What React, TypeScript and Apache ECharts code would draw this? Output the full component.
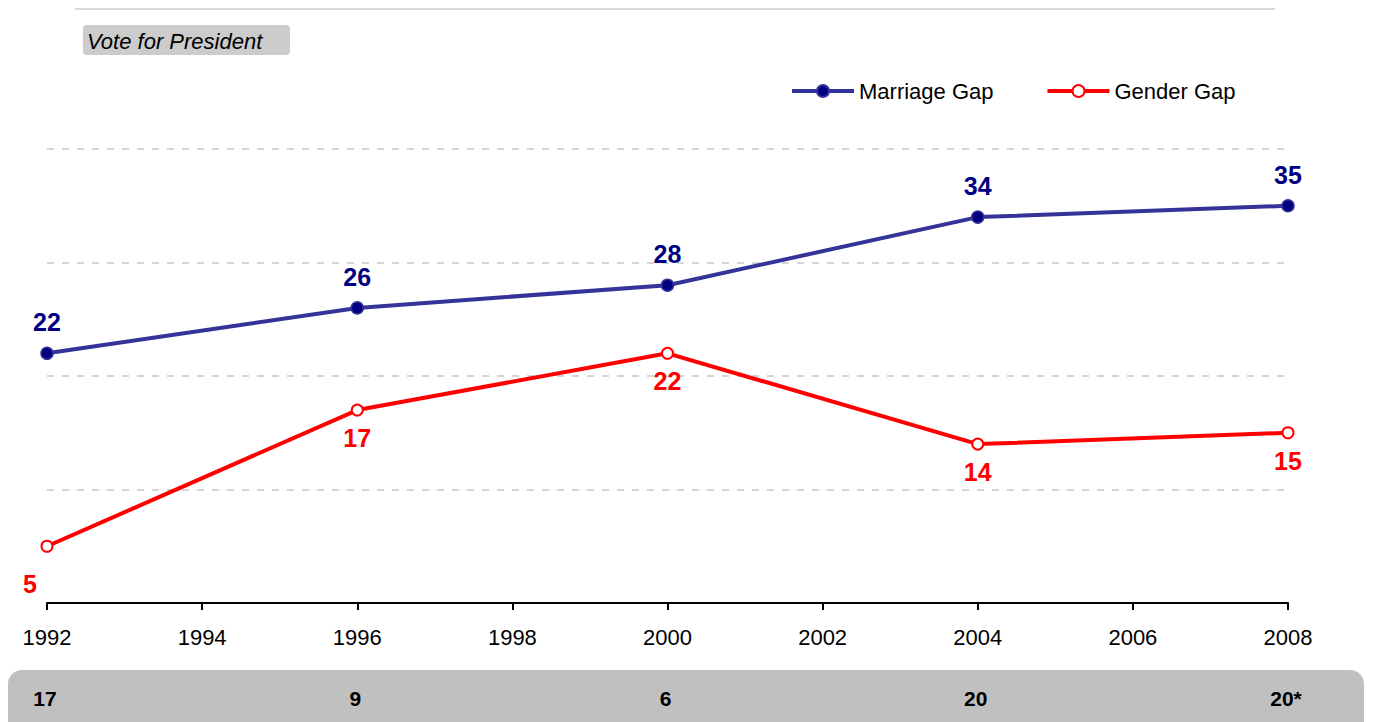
import React, { useEffect, useRef } from "react";
import * as echarts from "echarts";

const years = [1992, 1996, 2000, 2004, 2008];
const marriageGap = [22, 26, 28, 34, 35];
const genderGap = [5, 17, 22, 14, 15];
const bottomLabels = ["17", "9", "6", "20", "20*"];
const xTicks = { min: 1992, max: 2008, interval: 2 };
const yTicks = { min: 0, max: 40, interval: 10 };

const FONT = "'Liberation Sans', Arial, sans-serif";

export default function App() {
  const ref = useRef<HTMLDivElement>(null);
  useEffect(() => {
    if (!ref.current) return;
    const chart = echarts.init(ref.current, null, { renderer: "svg" });
    const option: any = {
      animation: false,
      backgroundColor: "#ffffff",
      textStyle: { fontFamily: FONT },
      grid: { left: 47, right: 86, top: 149, bottom: 119 },
      legend: {
        left: 785,
        top: 75,
        itemWidth: 62,
        itemHeight: 15,
        itemGap: 52,
        textStyle: { fontSize: 22, color: "#000", fontFamily: FONT },
        data: [
          { name: "Marriage Gap", lineStyle: { width: 4 } },
          { name: "Gender Gap", lineStyle: { width: 4 } },
        ],
      },
      xAxis: {
        type: "value",
        min: xTicks.min,
        max: xTicks.max,
        interval: xTicks.interval,
        axisLine: { lineStyle: { color: "#000", width: 2 } },
        axisTick: { show: true, length: 7, lineStyle: { color: "#000", width: 2 } },
        axisLabel: {
          fontSize: 22,
          color: "#000",
          fontFamily: FONT,
          margin: 23,
          formatter: (v: number) => String(v),
        },
        splitLine: { show: false },
      },
      yAxis: {
        type: "value",
        min: yTicks.min,
        max: yTicks.max,
        interval: yTicks.interval,
        axisLine: { show: false },
        axisTick: { show: false },
        axisLabel: { show: false },
        splitLine: { lineStyle: { color: "#c8c8c8", type: [7, 8], width: 1.5 } },
      },
      series: [
        {
          name: "Marriage Gap",
          type: "line",
          data: years.map((y, i) => [y, marriageGap[i]]),
          symbol: "circle",
          symbolSize: 12,
          lineStyle: { color: "#333399", width: 4 },
          itemStyle: { color: "#000080", borderColor: "#333399", borderWidth: 1.5 },
          label: {
            show: true,
            position: "top",
            distance: 12,
            fontSize: 25,
            fontWeight: "bold",
            color: "#000080",
            fontFamily: FONT,
          },
          z: 3,
        },
        {
          name: "Gender Gap",
          type: "line",
          data: years.map((y, i) => ({
            value: [y, genderGap[i]],
            label: i === 0 ? { offset: [-17, 10] } : undefined,
          })),
          symbol: "circle",
          symbolSize: 11,
          lineStyle: { color: "#ff0000", width: 4 },
          itemStyle: { color: "#ffffff", borderColor: "#ff0000", borderWidth: 2 },
          label: {
            show: true,
            position: "bottom",
            distance: 9,
            fontSize: 25,
            fontWeight: "bold",
            color: "#ff0000",
            fontFamily: FONT,
          },
          z: 3,
        },
      ],
    };
    chart.setOption(option);

    const bottomTexts = years.map((y, i) => {
      const px = chart.convertToPixel({ xAxisIndex: 0 }, y) as number;
      return {
        type: "text",
        x: px - 2,
        y: 698,
        style: {
          text: bottomLabels[i],
          font: `bold 21px ${FONT}`,
          fill: "#000",
          align: "center",
          verticalAlign: "middle",
        },
        z: 10,
      };
    });

    chart.setOption({
      graphic: [
        {
          type: "line",
          shape: { x1: 75, y1: 9, x2: 1275, y2: 9 },
          style: { stroke: "#d9d9d9", lineWidth: 2 },
        },
        {
          type: "rect",
          shape: { x: 83, y: 25, width: 207, height: 30, r: 4 },
          style: { fill: "#cccccc" },
        },
        {
          type: "text",
          x: 87,
          y: 41,
          style: {
            text: "Vote for President",
            font: `italic 22px ${FONT}`,
            fill: "#000",
            verticalAlign: "middle",
          },
        },
        {
          type: "rect",
          shape: { x: 8, y: 670, width: 1356, height: 70, r: 14 },
          style: { fill: "#c0c0c0" },
          z: 5,
        },
        ...bottomTexts,
      ],
    });

    return () => chart.dispose();
  }, []);
  return (
    <div
      ref={ref}
      style={{ position: "fixed", left: 0, top: 0, width: 1374, height: 722 }}
    />
  );
}
